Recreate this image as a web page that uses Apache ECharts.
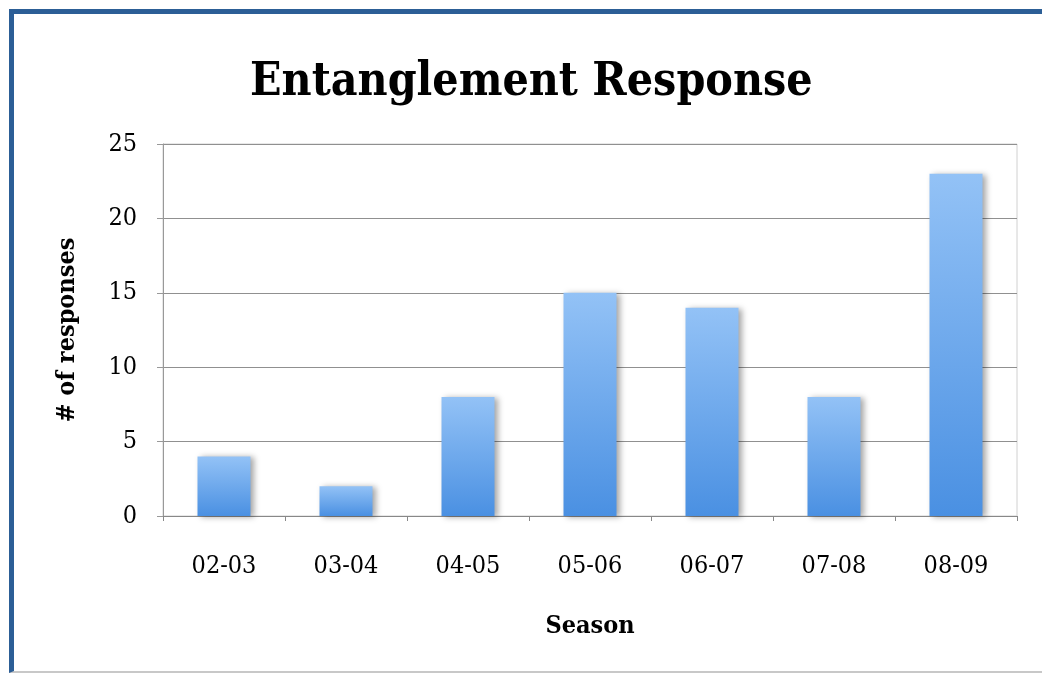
<!DOCTYPE html>
<html><head><meta charset="utf-8">
<script src="https://cdn.jsdelivr.net/npm/echarts@6/dist/echarts.min.js"></script>
<style>
html,body{margin:0;padding:0;background:#fff;}
#frame{position:absolute;left:9px;top:9px;width:1033px;height:664px;border-left:5px solid #2c5e96;border-top:5px solid #2c5e96;border-bottom:2px solid #c8c8c8;box-sizing:border-box;}
#c{position:absolute;left:0;top:0;width:1042px;height:677px;}
</style></head>
<body>
<div id="frame"></div>
<div id="c"></div>
<script>
const categories = ['02-03','03-04','04-05','05-06','06-07','07-08','08-09'];
const responses = [4, 2, 8, 15, 14, 8, 23];
const yTicks = [0, 5, 10, 15, 20, 25];

const chart = echarts.init(document.getElementById('c'));
const font = '"DejaVu Serif Condensed", "DejaVu Serif", serif';
chart.setOption({
  animation: false,
  title: {
    text: 'Entanglement Response', left: 245, top: 55,
    textStyle: {fontFamily: font, fontWeight: 'bold', fontSize: 46, color: '#000'}
  },
  grid: {left: 163, right: 25, top: 144, bottom: 161, show: true, borderColor: '#d0d0d0', borderWidth: 1},
  xAxis: {
    type: 'category', data: categories,
    name: 'Season', nameLocation: 'middle', nameGap: 98,
    nameTextStyle: {fontFamily: font, fontWeight: 'bold', fontSize: 25, color: '#000'},
    axisLine: {lineStyle: {color: '#888', width: 1}},
    axisTick: {show: true, length: 5, lineStyle: {color: '#888'}},
    axisLabel: {fontFamily: font, fontSize: 25, color: '#000', margin: 38}
  },
  yAxis: {
    type: 'value', min: yTicks[0], max: yTicks[yTicks.length-1], interval: 5,
    name: '# of responses', nameLocation: 'middle', nameGap: 83, nameRotate: 90,
    nameTextStyle: {fontFamily: font, fontWeight: 'bold', fontSize: 25, color: '#000'},
    axisLine: {show: true, lineStyle: {color: '#999'}},
    axisTick: {show: true, length: 6, lineStyle: {color: '#999'}},
    axisLabel: {fontFamily: font, fontSize: 25, color: '#000', margin: 26},
    splitLine: {lineStyle: {color: '#909090', width: 1}}
  },
  series: [{
    type: 'bar', data: responses, barWidth: 53,
    itemStyle: {
      color: new echarts.graphic.LinearGradient(0, 0, 0, 1, [
        {offset: 0, color: '#93c2f6'}, {offset: 1, color: '#4a90e2'}
      ]),
      shadowColor: 'rgba(0,0,0,0.35)', shadowBlur: 6, shadowOffsetX: 3, shadowOffsetY: 1
    }
  }]
});
</script>
</body></html>
